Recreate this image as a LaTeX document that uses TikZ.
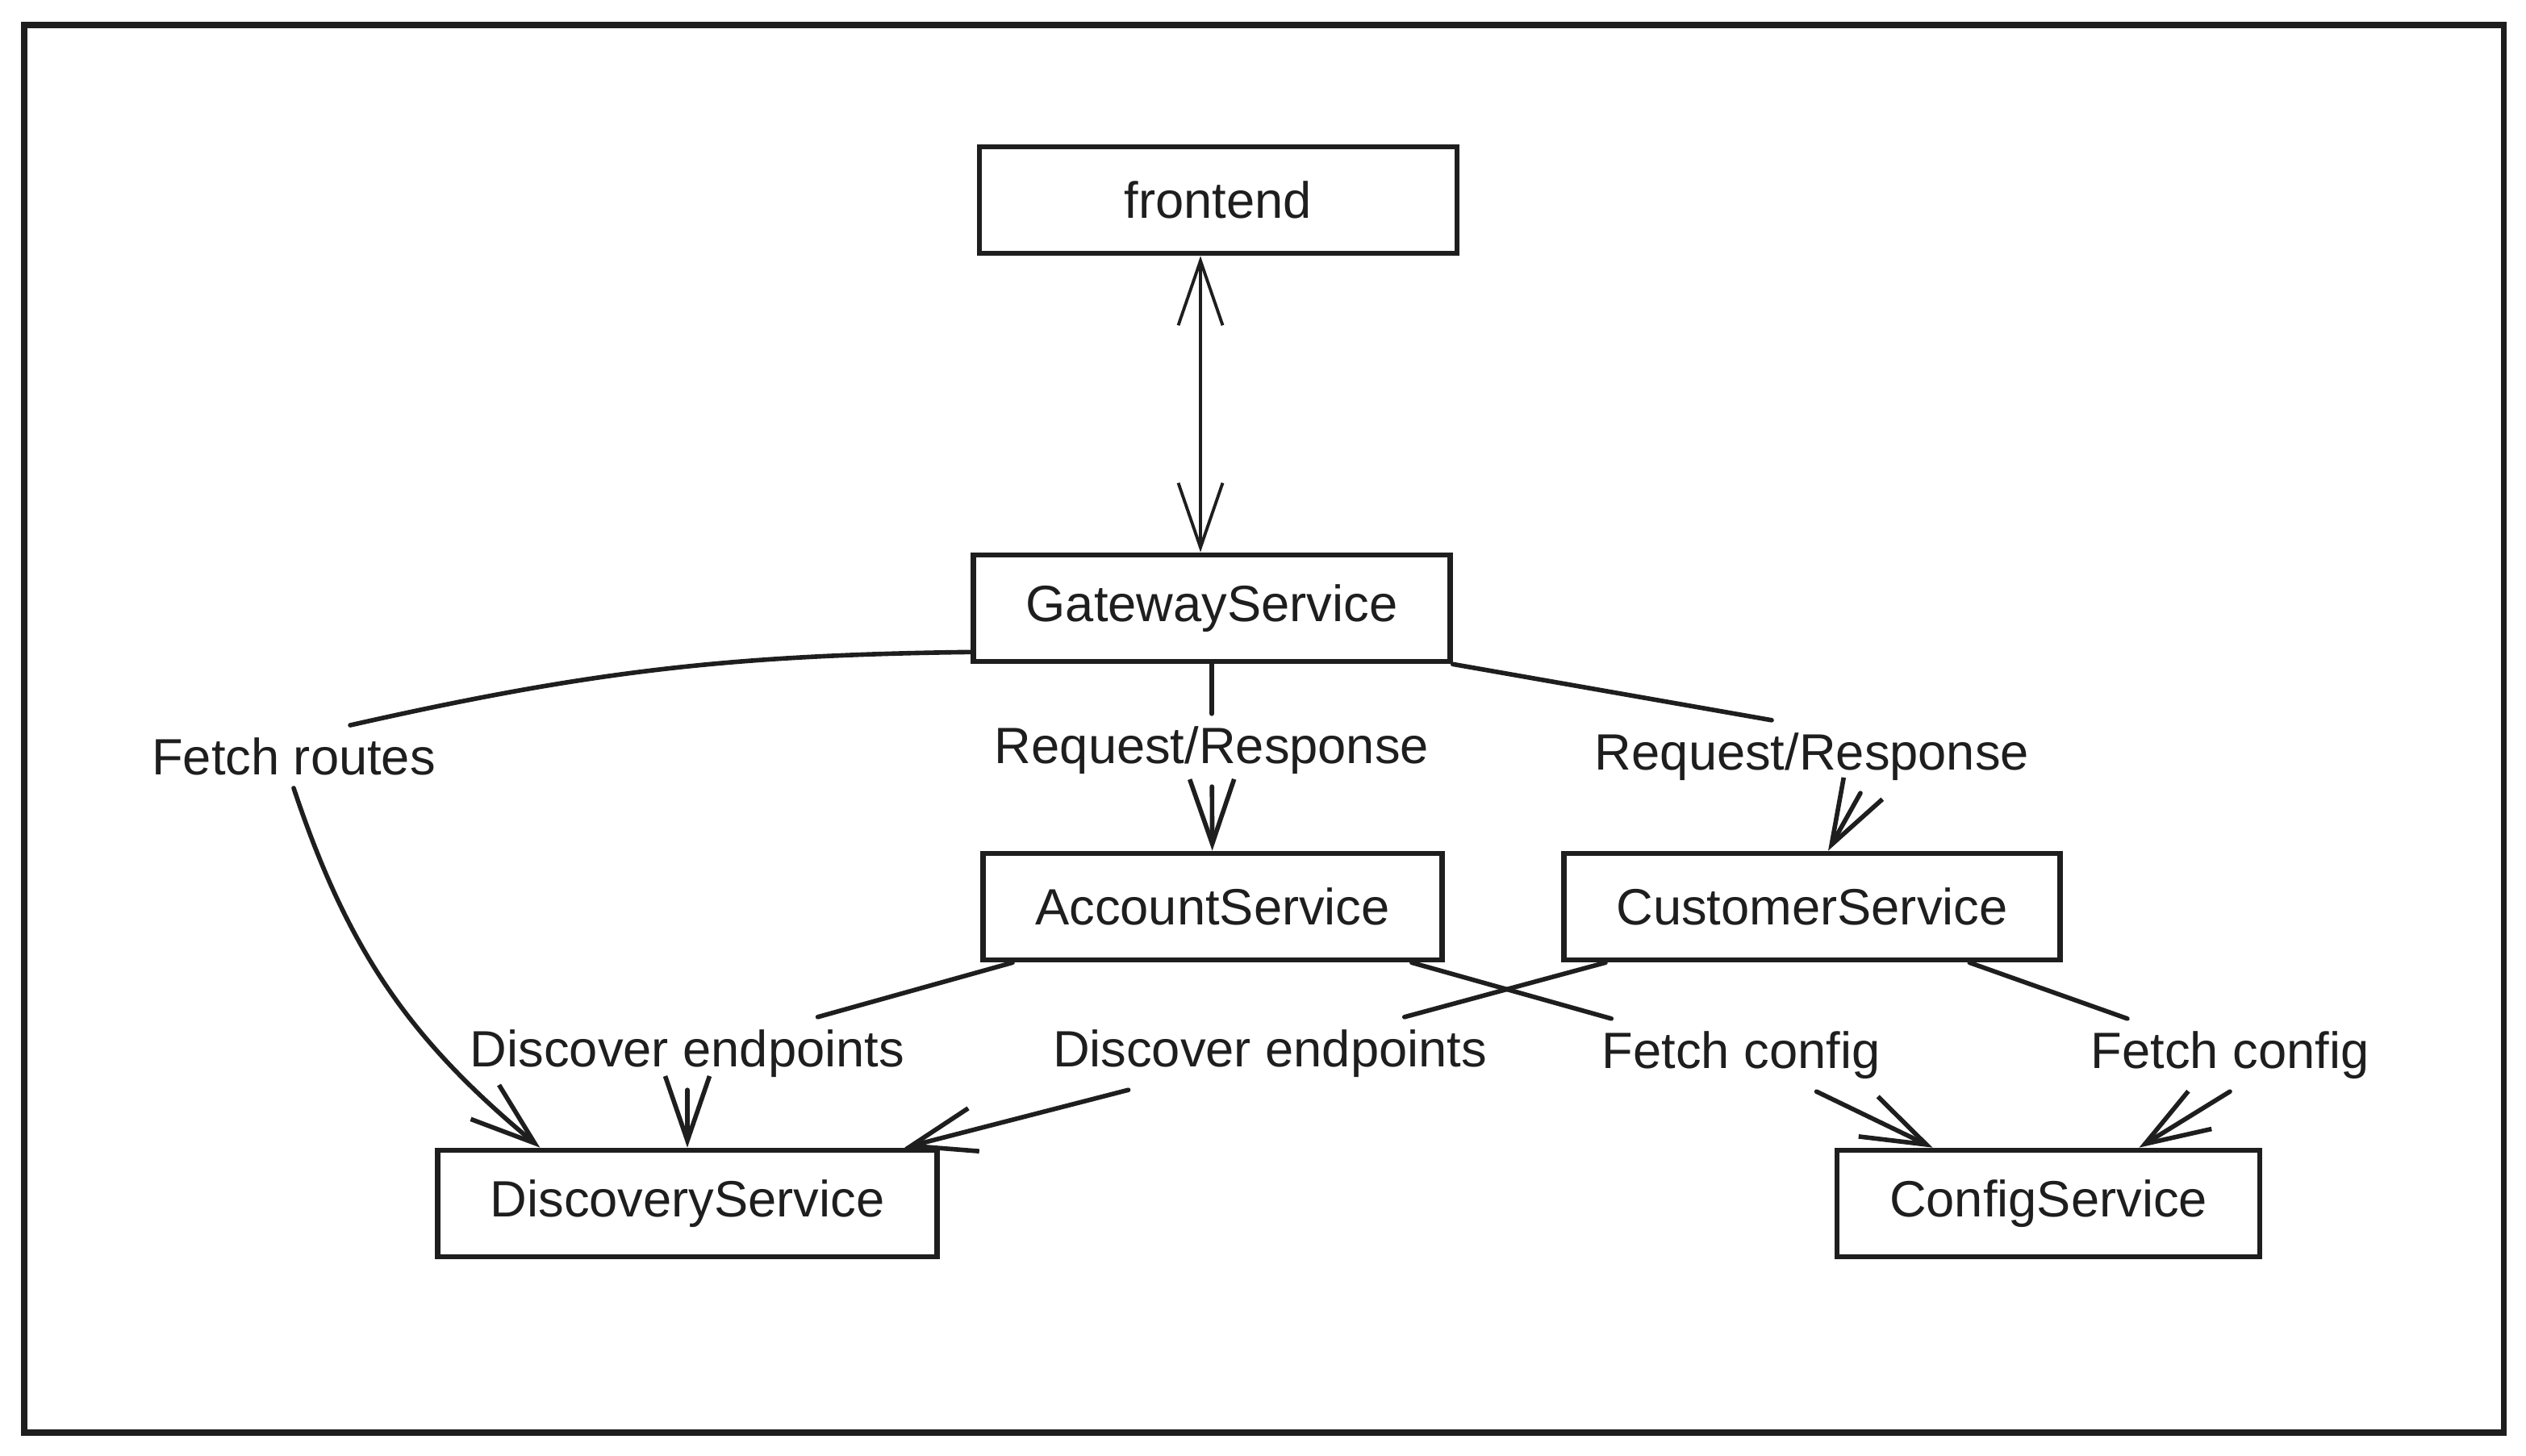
\documentclass[tikz,border=0pt]{standalone}
\usepackage{fontspec}
\setmainfont{Liberation Sans}
\usetikzlibrary{arrows.meta}
\definecolor{ink}{HTML}{1E1E1E}
\tikzset{%
  service/.style   = {shape=rectangle, draw=ink, line width=1.9pt,%
                      inner xsep=6.5mm, minimum height=1.32cm,%
                      text=ink, font=\fontsize{18}{22}\selectfont},%
  flowlabel/.style = {text=ink, inner sep=1.5mm,%
                      font=\fontsize{18}{22}\selectfont},%
  link/.style      = {draw=ink, line width=1.6pt, line cap=round},%
  flow/.style      = {link, ->},%
  >={Straight Barb[length=8mm,width=5.5mm]}%
}

\begin{document}
\begin{tikzpicture}[x=1cm,y=-1cm]
  \useasboundingbox (0,0) rectangle (31.31,18.05);
  \draw[ink, line width=2pt] (0.30,0.31) rectangle (31.03,17.76);
  % services
  \node[service, minimum width=5.92cm] (front) at (15.10,2.48) {frontend};
  \node[service] (gateway)   at (15.02,7.54)  {GatewayService};
  \node[service] (account)   at (15.03,11.24) {AccountService};
  \node[service] (customer)  at (22.46,11.24) {CustomerService};
  \node[service] (discovery) at (8.52,14.92)  {DiscoveryService};
  \node[service] (config)    at (25.39,14.92) {ConfigService};
  % labels
  \node[flowlabel] (routes)   at (3.64,9.38)  {Fetch routes};
  \node[flowlabel] (reqacc)   at (15.02,9.30) {Request/Response};
  \node[flowlabel] (reqcust)  at (22.46,9.38) {Request/Response};
  \node[flowlabel] (discacc)  at (8.52,13.06) {Discover endpoints};
  \node[flowlabel] (disccust) at (15.74,13.06) {Discover endpoints};
  \node[flowlabel] (cfgacc)   at (21.58,13.08) {Fetch config};
  \node[flowlabel] (cfgcust)  at (27.64,13.08) {Fetch config};
  % connectors
  \draw[link, <->, line width=1.1pt] ([xshift=-2.2mm]front.south) -- ([xshift=-1.4mm]gateway.north);
  \draw[link] ([yshift=1.5mm]gateway.south west) to[bend right=6] ([xshift=7mm]routes.north);
  \draw[flow] (routes.south) to[bend right=16] ([xshift=1.3cm]discovery.north west);
  \draw[link] (gateway) -- (reqacc);
  \draw[flow] (reqacc) -- (account);
  \draw[link] (gateway.south east) -- ([xshift=-5mm]reqcust.north);
  \draw[flow] ([xshift=6mm]reqcust.south) -- ([xshift=2mm]customer.north);
  \draw[link] (account) -- (discacc);
  \draw[flow] (discacc) -- (discovery);
  \draw[link] (customer) -- (disccust);
  \draw[flow] (disccust) -- (discovery);
  \draw[link] (account) -- (cfgacc);
  \draw[flow] (cfgacc) -- (config);
  \draw[link] (customer) -- (cfgcust);
  \draw[flow] (cfgcust.south) -- (config);
\end{tikzpicture}
\end{document}
